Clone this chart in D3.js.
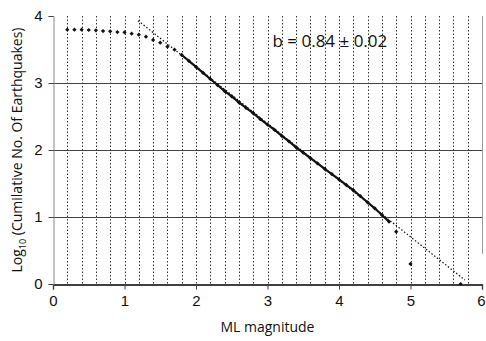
<!DOCTYPE html>
<html>
<head>
<meta charset="utf-8">
<script src="https://cdn.jsdelivr.net/npm/d3@7"></script>
<style>
body{margin:0;background:#fff}
svg{display:block;font-family:"Open Sans",sans-serif}
</style>
</head>
<body>
<div id="graph"></div>
<script>
// magnitude bins and log10 cumulative counts
let magnitudes=[0.2,0.3,0.4,0.5,0.6,0.7,0.8,0.9,1.0,1.1,1.2,1.3,1.4,1.5,1.6,1.7,1.8,1.9,2.0,2.1,2.2,2.3,2.4,2.5,2.6,2.7,2.8,2.9,3.0,3.1,3.2,3.3,3.4,3.5,3.6,3.7,3.8,3.9,4.0,4.1,4.2,4.3,4.4,4.5,4.6,4.7,4.8,5.0,5.7]
let logCounts=[3.796,3.796,3.796,3.791,3.786,3.776,3.771,3.761,3.756,3.736,3.721,3.691,3.642,3.602,3.542,3.497,3.418,3.33,3.24,3.15,3.06,2.97,2.88,2.80,2.71,2.63,2.55,2.46,2.38,2.30,2.21,2.13,2.04,1.96,1.88,1.80,1.72,1.64,1.56,1.48,1.40,1.31,1.22,1.13,1.03,0.93,0.78,0.30,0.0]
// fitted trend line end points
let fitX=[1.19,5.76]
let fitY=[3.93,0.06]
let xTicks=[0,1,2,3,4,5,6]
let yTicks=[0,1,2,3,4]
let gridH=[1,2,3]

let width=486,height=341
let svg=d3.select("#graph").append("svg").attr("width",width).attr("height",height)

let x=d3.scaleLinear().domain([0,6]).range([53,482])
let y=d3.scaleLinear().domain([0,4]).range([284,16])

// dotted vertical grid every 0.2
let vgrid=d3.range(1,30).map(i=>i/5)
svg.append("g").selectAll("line").data(vgrid).enter().append("line")
.attr("x1",d=>Math.round(x(d))+0.5).attr("x2",d=>Math.round(x(d))+0.5)
.attr("y1",y(4)).attr("y2",y(0))
.attr("stroke","#333").attr("stroke-width",1).attr("stroke-dasharray","1.5,2")

// horizontal solid grid
svg.append("g").selectAll("line").data(gridH).enter().append("line")
.attr("x1",x(0)).attr("x2",x(6))
.attr("y1",d=>Math.round(y(d))+0.5).attr("y2",d=>Math.round(y(d))+0.5)
.attr("stroke","#444").attr("stroke-width",1)

// right edge line
svg.append("line").attr("x1",x(6)+0.5).attr("x2",x(6)+0.5)
.attr("y1",y(4)).attr("y2",y(0.45))
.attr("stroke","#999").attr("stroke-width",1)

// trend line
svg.append("line")
.attr("x1",x(fitX[0])).attr("y1",y(fitY[0]))
.attr("x2",x(fitX[1])).attr("y2",y(fitY[1]))
.attr("stroke","#111").attr("stroke-width",1.2).attr("stroke-dasharray","1.5,2")

// axes
let xAxis=d3.axisBottom(x).tickValues(xTicks).tickFormat(d3.format("d")).tickSize(5).tickPadding(6)
let gx=svg.append("g").attr("transform","translate(0,"+(Math.round(y(0))+0.5)+")").call(xAxis)
gx.select(".domain").attr("stroke","#000").attr("stroke-width",1.3)
gx.selectAll(".tick line").attr("stroke","#444")
gx.selectAll("text").style("font-size","15px").style("fill","#111")
gx.selectAll("text").filter(d=>d==6).attr("dx",-1)

let yAxis=d3.axisLeft(y).tickValues(yTicks).tickFormat(d3.format("d")).tickSize(5).tickPadding(6)
let gy=svg.append("g").attr("transform","translate("+(x(0)+0.5)+",0)").call(yAxis)
gy.select(".domain").attr("stroke","#888")
gy.selectAll(".tick line").attr("stroke","#444")
gy.selectAll("text").style("font-size","15px").style("fill","#111")

// data: thick run through the dense part, then markers
let pts=magnitudes.map((m,i)=>[m,logCounts[i]])
let dense=pts.filter(p=>p[0]>=1.8&&p[0]<=4.7)
svg.append("path").datum(dense)
.attr("d",d3.line().x(d=>x(d[0])).y(d=>y(d[1])))
.attr("fill","none").attr("stroke","#111").attr("stroke-width",2.2)

svg.append("g").selectAll("path").data(pts).enter().append("path")
.attr("d",d3.symbol().type(d3.symbolSquare).size(9))
.attr("transform",d=>"translate("+x(d[0])+","+y(d[1])+") rotate(45)")
.attr("fill","#111")

// annotation
svg.append("text").attr("x",x(3.07)).attr("y",y(3.54))
.style("font-size","17px").style("fill","#111")
.text("b = 0.84 \u00b1 0.02")

// axis titles
svg.append("text").attr("x",x(3)).attr("y",332)
.attr("text-anchor","middle").style("font-size","14px").style("fill","#111")
.text("ML magnitude")

let yt=svg.append("text").attr("transform","translate(22,"+y(2)+") rotate(-90)")
.attr("text-anchor","middle").style("font-size","14px").style("fill","#111")
yt.append("tspan").text("Log")
yt.append("tspan").attr("dy",4).style("font-size","9px").text("10")
yt.append("tspan").attr("dy",-4).text(" (Cumilative No. Of Earthquakes)")
</script>
</body>
</html>
